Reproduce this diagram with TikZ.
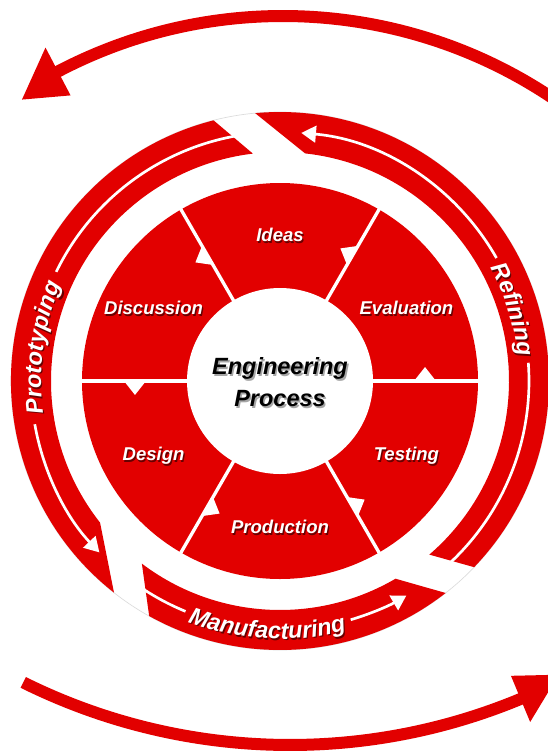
\documentclass[tikz,border=0pt]{standalone}
\usepackage{fontspec}
\newfontfamily\labelfont{Liberation Sans}
\usetikzlibrary{arrows.meta,decorations.text}

\definecolor{wheelred}{RGB}{226,0,0}
\newcommand\ringfont{\labelfont\bfseries\itshape\fontsize{17.6}{20}\selectfont}

\tikzset{
  bigarc/.style={draw=wheelred,line width=9pt},
  ringline/.style={draw=white,line width=2pt},
  ringarrow/.style={ringline,-{Triangle[length=11pt,width=12.5pt]}},
  divider/.style={draw=white,line width=2.5pt},
  sectorlabel/.style={anchor=base,yshift=-5pt,inner sep=0pt,text=white,
    font=\labelfont\bfseries\itshape\fontsize{13.9}{16}\selectfont},
  centrelabel/.style={anchor=base,inner sep=0pt,
    font=\labelfont\bfseries\itshape\fontsize{17.6}{20}\selectfont},
}

\begin{document}
\begin{tikzpicture}[x=0.75pt,y=0.75pt,yscale=-1,xscale=1]
\useasboundingbox (0,0) rectangle (548,754);
\clip (0,0) rectangle (548,754);

% centre of the wheel, y pointing up from here on
\begin{scope}[shift={(280,381)},yscale=-1]

%Shape: Arc [top return arrow]
\begin{scope}[shift={(3,-119)}]
\draw[bigarc] (50:484) arc[start angle=50,end angle=118,radius=484];
\fill[wheelred] (117.7:457) -- (123.1:478) -- (117.7:511) -- cycle;
\end{scope}
%Shape: Arc [bottom arrow]
\begin{scope}[shift={(10,236)}]
\draw[bigarc] (243.6:600) arc[start angle=243.6,end angle=293,radius=600];
\fill[wheelred] (292.6:575) -- (296.9:594) -- (292.6:625) -- cycle;
\end{scope}

%Shape: Circle [faint rim]
\draw[black!14,line width=0.5pt] (0,0) circle[radius=269];

%Shape: Ring segments
\fill[wheelred] (104.3:269) arc[start angle=104.3,end angle=231.9,radius=269]
  -- (218.2:229) arc[start angle=218.2,end angle=96.8,radius=229] -- cycle;
\fill[wheelred] (240.9:269) arc[start angle=240.9,end angle=308,radius=269]
  -- (300.3:229) arc[start angle=300.3,end angle=232.9,radius=229] -- cycle;
\fill[wheelred] (-43.8:269) arc[start angle=-43.8,end angle=95.3,radius=269]
  -- (83.7:229) arc[start angle=83.7,end angle=-49.3,radius=229] -- cycle;

%Straight Lines [ring arrows]
\draw[ringline] (100:249) arc[start angle=100,end angle=154,radius=249];
\draw[ringarrow] (190:249) arc[start angle=190,end angle=223.5,radius=249];
\draw[ringline] (236:249) arc[start angle=236,end angle=247.7,radius=249];
\draw[ringarrow] (286.5:249) arc[start angle=286.5,end angle=300.5,radius=249];
\draw[ringline] (-47:249) arc[start angle=-47,end angle=4.2,radius=249];
\draw[ringarrow] (29.6:249) arc[start angle=29.6,end angle=85.1,radius=249];

% Text along the ring, shadow first
\foreach \col/\dx/\dy in {wheelred!45!black/1.2/-1.5, white/0/0}{
\begin{scope}[shift={(\dx,\dy)}]
\path[decorate,decoration={text along path,text align=center,text color=\col,
  text={|\ringfont|Prototyping}}] (200:239) arc[start angle=200,end angle=144,radius=239];
\path[decorate,decoration={text along path,text align=center,text color=\col,
  text={|\ringfont|Refining}}] (40:239) arc[start angle=40,end angle=-6,radius=239];
\path[decorate,decoration={text along path,text align=center,text color=\col,
  text={|\ringfont|Manufacturing}}] (240:258) arc[start angle=240,end angle=294,radius=258];
\end{scope}
}

%Shape: Sectors
\fill[wheelred] (0,0) circle[radius=198];
\foreach \a in {0,60,...,300}{
  \draw[divider] (\a:92) -- (\a:199);
  \fill[white] (\a:134) -- ({\a+5.5}:145.7) -- (\a:156) -- cycle;
}
\fill[white] (0,0) circle[radius=93];

% Text Node
\foreach \a/\nm/\txt in {90/ideas/Ideas,30/evaluation/Evaluation,-30/testing/Testing,
    -90/production/Production,-150/design/Design,150/discussion/Discussion}{
  \node[sectorlabel,text=wheelred!45!black,xshift=0.9pt,yshift=-1.1pt] at (\a:146) {\txt};
  \node[sectorlabel] (\nm) at (\a:146) {\txt};
}

% Text Node
\node[centrelabel,text=black!35,xshift=1.2pt,yshift=-1.6pt] at (0,6.5) {Engineering};
\node[centrelabel] (engineering) at (0,6.5) {Engineering};
\node[centrelabel,text=black!35,xshift=1.2pt,yshift=-1.6pt] at (0,-25) {Process};
\node[centrelabel] (process) at (0,-25) {Process};

\end{scope}
\end{tikzpicture}
\end{document}
